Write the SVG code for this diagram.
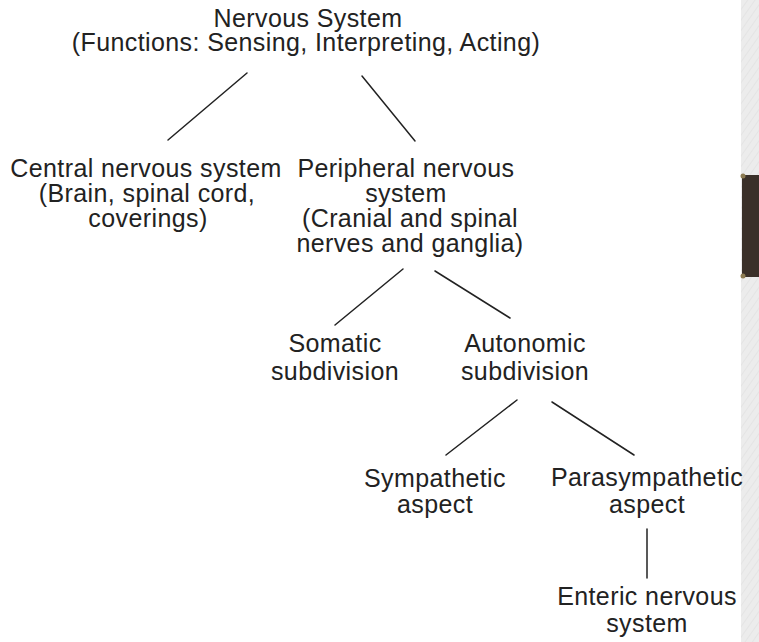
<svg xmlns="http://www.w3.org/2000/svg" width="759" height="642" viewBox="0 0 759 642">
  <defs>
    <style>
      .t { font-family: "Liberation Sans", Arial, Helvetica, sans-serif; font-size: 25px; letter-spacing: 0.4px; fill: #222; text-anchor: middle; }
      .c { stroke: #222; stroke-width: 1.5; fill: none; stroke-linecap: round; }
    </style>
    <pattern id="tex" width="6" height="6" patternUnits="userSpaceOnUse" patternTransform="rotate(35)">
      <rect width="6" height="6" fill="#ececec"/>
      <line x1="0" y1="0" x2="0" y2="6" stroke="#e2e2e2" stroke-width="1.5"/>
    </pattern>
  </defs>
  <rect width="759" height="642" fill="#ffffff"/>
  <g id="side-strip">
    <rect x="741" y="0" width="18" height="642" fill="url(#tex)"/>
    <rect x="742" y="175" width="17" height="102" fill="#3a3029"/>
    <circle cx="743" cy="176" r="2.5" fill="#8c7b52"/>
    <circle cx="743" cy="276" r="2.5" fill="#8c7b52"/>
  </g>
  <g id="connectors">
    <line class="c" x1="247" y1="73" x2="168" y2="140"/>
    <line class="c" x1="362" y1="76" x2="415" y2="141"/>
    <line class="c" x1="403" y1="269" x2="335" y2="325"/>
    <line class="c" x1="435" y1="271" x2="510" y2="318"/>
    <line class="c" x1="517" y1="400" x2="446" y2="455"/>
    <line class="c" x1="552" y1="402" x2="634" y2="455"/>
    <line class="c" x1="647" y1="529" x2="647" y2="578"/>
  </g>
  <g id="nervous-system">
    <text class="t" x="308" y="27">Nervous System</text>
    <text class="t" x="306" y="51">(Functions: Sensing, Interpreting, Acting)</text>
  </g>
  <g id="cns">
    <text class="t" x="146" y="177">Central nervous system</text>
    <text class="t" x="147" y="202">(Brain, spinal cord,</text>
    <text class="t" x="148" y="227">coverings)</text>
  </g>
  <g id="pns">
    <text class="t" x="406" y="177">Peripheral nervous</text>
    <text class="t" x="406" y="202">system</text>
    <text class="t" x="410" y="227">(Cranial and spinal</text>
    <text class="t" x="410" y="252">nerves and ganglia)</text>
  </g>
  <g id="somatic">
    <text class="t" x="335" y="352">Somatic</text>
    <text class="t" x="335" y="380">subdivision</text>
  </g>
  <g id="autonomic">
    <text class="t" x="525" y="352">Autonomic</text>
    <text class="t" x="525" y="380">subdivision</text>
  </g>
  <g id="sympathetic">
    <text class="t" x="435" y="487">Sympathetic</text>
    <text class="t" x="435" y="513">aspect</text>
  </g>
  <g id="parasympathetic">
    <text class="t" x="647" y="486">Parasympathetic</text>
    <text class="t" x="647" y="513">aspect</text>
  </g>
  <g id="enteric">
    <text class="t" x="647" y="605">Enteric nervous</text>
    <text class="t" x="647" y="632">system</text>
  </g>
</svg>
